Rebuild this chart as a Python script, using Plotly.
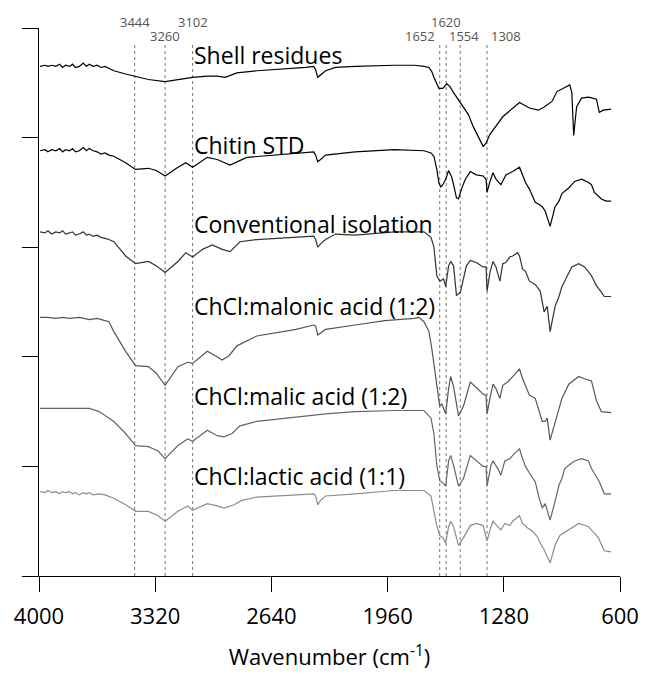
import plotly.graph_objects as go

# ---------------- data ----------------
shell_wn = [3994, 3965, 3948, 3925, 3902, 3879, 3862, 3844, 3821, 3804, 3787, 3764, 3741, 3723, 3706, 3683, 3660, 3637, 3614, 3591,
            3562, 3493, 3435, 3360, 3262, 3187, 3101, 3015, 2957, 2911, 2842, 2726, 2611, 2438, 2392, 2381, 2369, 2352, 2323, 2265,
            2150, 1920, 1804, 1747, 1718, 1701, 1689, 1660, 1637, 1614, 1597, 1574, 1534, 1487, 1459, 1401, 1384, 1361, 1286, 1188,
            1130, 1078, 1044, 998, 969, 894, 882, 871, 854, 825, 784, 738, 721, 698, 652]
shell_y = [4.65, 4.66, 4.65, 4.66, 4.65, 4.67, 4.64, 4.66, 4.65, 4.67, 4.64, 4.65, 4.68, 4.65, 4.67, 4.65, 4.66, 4.64, 4.65, 4.63,
           4.61, 4.58, 4.56, 4.53, 4.51, 4.53, 4.55, 4.56, 4.56, 4.55, 4.59, 4.61, 4.62, 4.64, 4.65, 4.62, 4.55, 4.57, 4.61, 4.64,
           4.65, 4.66, 4.66, 4.65, 4.64, 4.60, 4.55, 4.45, 4.45, 4.49, 4.47, 4.41, 4.32, 4.21, 4.10, 3.92, 3.95, 4.03, 4.19, 4.32,
           4.27, 4.25, 4.28, 4.33, 4.42, 4.48, 4.41, 4.02, 4.28, 4.36, 4.37, 4.35, 4.23, 4.25, 4.26]

chitin_wn = [3994, 3965, 3948, 3925, 3902, 3879, 3862, 3844, 3821, 3804, 3787, 3764, 3741, 3723, 3706, 3683, 3660, 3637, 3614, 3591,
             3562, 3493, 3435, 3360, 3314, 3262, 3187, 3141, 3101, 3015, 2957, 2882, 2784, 2611, 2392, 2381, 2369, 2352, 2323, 2150,
             1920, 1747, 1706, 1689, 1672, 1660, 1649, 1637, 1620, 1603, 1585, 1574, 1557, 1545, 1528, 1505, 1476, 1441, 1401, 1384,
             1378, 1361, 1343, 1326, 1297, 1268, 1228, 1188, 1170, 1153, 1130, 1096, 1073, 1055, 1038, 1009, 980, 957, 940, 900,
             865, 825, 784, 767, 750, 709, 681, 652]
chitin_y = [3.88, 3.89, 3.87, 3.89, 3.88, 3.90, 3.87, 3.89, 3.88, 3.90, 3.87, 3.88, 3.91, 3.88, 3.90, 3.88, 3.87, 3.85, 3.86, 3.84,
            3.83, 3.77, 3.71, 3.72, 3.70, 3.65, 3.73, 3.77, 3.73, 3.82, 3.80, 3.75, 3.82, 3.84, 3.87, 3.84, 3.78, 3.80, 3.84, 3.87,
            3.89, 3.88, 3.86, 3.83, 3.71, 3.59, 3.55, 3.57, 3.62, 3.70, 3.64, 3.57, 3.45, 3.44, 3.53, 3.62, 3.69, 3.66, 3.65, 3.62,
            3.50, 3.60, 3.68, 3.62, 3.57, 3.66, 3.69, 3.73, 3.65, 3.59, 3.53, 3.41, 3.39, 3.37, 3.33, 3.19, 3.37, 3.42, 3.49, 3.54,
            3.60, 3.62, 3.59, 3.57, 3.50, 3.44, 3.42, 3.42]

conv_wn = [3994, 3965, 3948, 3925, 3902, 3879, 3862, 3844, 3821, 3804, 3787, 3764, 3741, 3723, 3706, 3683, 3660, 3637, 3614, 3591,
           3562, 3493, 3435, 3360, 3314, 3262, 3187, 3141, 3101, 3043, 2986, 2928, 2882, 2824, 2726, 2496, 2392, 2381, 2369, 2352,
           2323, 2265, 2150, 1920, 1747, 1706, 1689, 1672, 1655, 1632, 1620, 1603, 1591, 1574, 1557, 1534, 1499, 1476, 1441, 1401,
           1384, 1378, 1361, 1343, 1326, 1303, 1286, 1268, 1245, 1228, 1199, 1188, 1170, 1153, 1130, 1096, 1067, 1044, 1026, 1009,
           980, 957, 940, 911, 882, 842, 807, 767, 738, 709, 692, 652]
conv_y = [3.14, 3.13, 3.15, 3.12, 3.14, 3.13, 3.15, 3.12, 3.13, 3.14, 3.11, 3.12, 3.14, 3.11, 3.12, 3.10, 3.11, 3.09, 3.08, 3.07,
          3.05, 2.92, 2.85, 2.87, 2.83, 2.77, 2.87, 2.95, 2.91, 2.98, 3.02, 2.98, 2.96, 3.05, 3.07, 3.09, 3.10, 3.07, 3.00, 3.03,
          3.07, 3.12, 3.11, 3.14, 3.14, 3.09, 3.00, 2.74, 2.69, 2.71, 2.64, 2.83, 2.87, 2.83, 2.56, 2.59, 2.83, 2.88, 2.86, 2.82,
          2.82, 2.60, 2.77, 2.87, 2.82, 2.69, 2.85, 2.86, 2.91, 2.92, 2.95, 2.92, 2.80, 2.78, 2.69, 2.66, 2.60, 2.41, 2.46, 2.23,
          2.46, 2.55, 2.64, 2.73, 2.82, 2.85, 2.82, 2.74, 2.65, 2.59, 2.55, 2.55]

malonic_wn = [3994, 3948, 3902, 3862, 3821, 3764, 3706, 3660, 3614, 3591, 3562, 3493, 3435, 3360, 3314, 3262, 3187, 3130, 3101, 3015,
              2968, 2928, 2888, 2842, 2726, 2496, 2392, 2381, 2369, 2352, 2323, 2150, 1977, 1804, 1776, 1747, 1718, 1701, 1672, 1655,
              1643, 1620, 1603, 1591, 1574, 1545, 1516, 1476, 1441, 1401, 1384, 1378, 1361, 1343, 1326, 1303, 1286, 1257, 1228, 1188,
              1170, 1153, 1130, 1096, 1073, 1055, 1038, 1026, 1009, 980, 957, 940, 900, 842, 807, 767, 738, 709, 652]
malonic_y = [2.36, 2.36, 2.35, 2.36, 2.35, 2.36, 2.34, 2.35, 2.33, 2.32, 2.23, 2.05, 1.92, 1.91, 1.85, 1.74, 1.91, 1.95, 1.94, 2.05,
             2.01, 1.97, 2.01, 2.10, 2.19, 2.25, 2.29, 2.28, 2.20, 2.22, 2.25, 2.29, 2.33, 2.35, 2.36, 2.32, 2.23, 2.07, 1.71, 1.55,
             1.57, 1.48, 1.71, 1.82, 1.73, 1.46, 1.55, 1.77, 1.72, 1.66, 1.65, 1.48, 1.62, 1.75, 1.71, 1.62, 1.74, 1.77, 1.82, 1.89,
             1.80, 1.74, 1.65, 1.62, 1.50, 1.41, 1.41, 1.44, 1.24, 1.41, 1.53, 1.62, 1.75, 1.82, 1.80, 1.78, 1.60, 1.50, 1.49]

malic_wn = [3994, 3879, 3764, 3706, 3648, 3562, 3493, 3435, 3360, 3303, 3262, 3187, 3130, 3101, 3015, 2957, 2917, 2870, 2824, 2726,
            2496, 2323, 2150, 1920, 1747, 1706, 1689, 1672, 1655, 1637, 1620, 1603, 1591, 1574, 1545, 1516, 1476, 1441, 1401, 1384,
            1378, 1355, 1343, 1315, 1297, 1274, 1245, 1228, 1188, 1170, 1153, 1130, 1096, 1073, 1055, 1038, 1009, 980, 957, 940,
            923, 900, 865, 825, 784, 767, 721, 692, 652]
malic_y = [1.53, 1.53, 1.53, 1.53, 1.50, 1.41, 1.30, 1.19, 1.18, 1.14, 1.07, 1.19, 1.25, 1.23, 1.33, 1.28, 1.27, 1.30, 1.37, 1.41,
           1.45, 1.48, 1.50, 1.51, 1.51, 1.44, 1.30, 1.01, 0.87, 0.85, 0.82, 1.05, 1.10, 1.01, 0.82, 0.89, 1.10, 1.05, 1.00, 1.00,
           0.82, 1.01, 1.05, 0.98, 0.92, 1.05, 1.07, 1.10, 1.16, 1.07, 1.00, 0.94, 0.86, 0.71, 0.62, 0.66, 0.51, 0.68, 0.83, 0.89,
           0.98, 1.01, 1.05, 1.07, 1.05, 0.98, 0.86, 0.75, 0.75]

lactic_wn = [3994, 3965, 3948, 3925, 3902, 3879, 3862, 3844, 3821, 3804, 3787, 3764, 3741, 3723, 3706, 3683, 3648, 3614, 3562, 3493,
             3435, 3360, 3303, 3262, 3187, 3130, 3101, 3015, 2957, 2917, 2859, 2813, 2726, 2496, 2392, 2381, 2369, 2352, 2323, 2150,
             1920, 1747, 1706, 1689, 1672, 1655, 1637, 1620, 1603, 1591, 1574, 1545, 1516, 1476, 1441, 1401, 1378, 1355, 1343, 1315,
             1297, 1274, 1245, 1228, 1188, 1170, 1142, 1113, 1084, 1073, 1044, 1009, 980, 952, 900, 842, 784, 727, 692, 652]
lactic_y = [0.77, 0.76, 0.78, 0.76, 0.77, 0.75, 0.77, 0.76, 0.77, 0.75, 0.76, 0.74, 0.76, 0.75, 0.76, 0.74, 0.75, 0.74, 0.71, 0.65,
            0.59, 0.59, 0.55, 0.50, 0.59, 0.64, 0.60, 0.66, 0.64, 0.62, 0.65, 0.69, 0.72, 0.74, 0.75, 0.73, 0.65, 0.69, 0.73, 0.75,
            0.78, 0.78, 0.73, 0.59, 0.46, 0.37, 0.35, 0.30, 0.45, 0.50, 0.45, 0.28, 0.35, 0.46, 0.48, 0.46, 0.32, 0.45, 0.50, 0.45,
            0.42, 0.48, 0.46, 0.50, 0.55, 0.48, 0.44, 0.41, 0.36, 0.32, 0.24, 0.12, 0.28, 0.37, 0.42, 0.48, 0.45, 0.35, 0.23, 0.22]

series_names = ["Shell residues", "Chitin STD", "Conventional isolation",
                "ChCl:malonic acid (1:2)", "ChCl:malic acid (1:2)", "ChCl:lactic acid (1:1)"]
series_wn = [shell_wn, chitin_wn, conv_wn, malonic_wn, malic_wn, lactic_wn]
series_y = [shell_y, chitin_y, conv_y, malonic_y, malic_y, lactic_y]
series_colors = ["#000000", "#000000", "#333333", "#555555", "#666666", "#8c8c8c"]
label_y = [4.755, 3.93, 3.21, 2.46, 1.64, 0.91]
label_wn = 3102

peak_pos = [3440, 3262, 3101, 1655, 1617, 1535, 1378]
peak_labels = ["3444", "3260", "3102", "1652", "1620", "1554", "1308"]
peak_label_row = [0, 1, 0, 1, 0, 1, 1]   # 0 = upper row, 1 = lower row
peak_anchor = ["center", "center", "center", "right", "center", "center", "left"]
peak_top = 4.86

x_ticks = [4000, 3320, 2640, 1960, 1280, 600]

# ---------------- figure ----------------
fig = go.Figure()
FONT = "'Open Sans', Lato, sans-serif"

for p in peak_pos:
    fig.add_trace(go.Scatter(x=[p, p], y=[0, peak_top], mode="lines",
                             line=dict(color="#777777", width=1, dash="dot"),
                             hoverinfo="skip", showlegend=False))

for name, wn, yv, c in zip(series_names, series_wn, series_y, series_colors):
    fig.add_trace(go.Scatter(x=wn, y=yv, mode="lines", name=name,
                             line=dict(color=c, width=1.2), showlegend=False))

for name, ly in zip(series_names, label_y):
    fig.add_annotation(x=label_wn, y=ly, text=name, showarrow=False,
                       xanchor="left", yanchor="middle", xshift=0,
                       font=dict(family=FONT, size=23, color="#000000"))

for p, lab, row, anc in zip(peak_pos, peak_labels, peak_label_row, peak_anchor):
    shift = {"center": 0, "right": -3, "left": 2}[anc]
    if lab == "1554":
        shift = 4
    fig.add_annotation(x=p, y=1, yref="paper", text=lab, showarrow=False,
                       xanchor=anc, yanchor="middle", xshift=shift,
                       yshift=6 if row == 0 else -8,
                       font=dict(family=FONT, size=13, color="#555555"))

fig.update_layout(
    width=651, height=678, autosize=False,
    margin=dict(l=39, r=22, t=28, b=100),
    paper_bgcolor="white", plot_bgcolor="white",
    font=dict(family=FONT, color="#000000"),
    showlegend=False,
)
fig.update_xaxes(range=[4000, 600], tickmode="array", tickvals=x_ticks,
                 ticktext=[str(t) for t in x_ticks],
                 showgrid=False, zeroline=False, showline=True, linecolor="#000000", linewidth=1,
                 ticks="outside", ticklen=15, tickcolor="#000000", tickwidth=1,
                 tickfont=dict(family=FONT, size=22, color="#000000"),
                 ticklabelstandoff=6,
                 title=dict(text="Wavenumber (cm<sup>-1</sup>)", standoff=20,
                            font=dict(family=FONT, size=22, color="#000000")))
fig.update_yaxes(range=[0, 5], tickmode="array", tickvals=[0, 1, 2, 3, 4, 5],
                 showticklabels=False, showgrid=False, zeroline=False,
                 showline=True, linecolor="#000000", linewidth=1,
                 ticks="outside", ticklen=16, tickcolor="#000000", tickwidth=1)

fig.write_html("out.html")
